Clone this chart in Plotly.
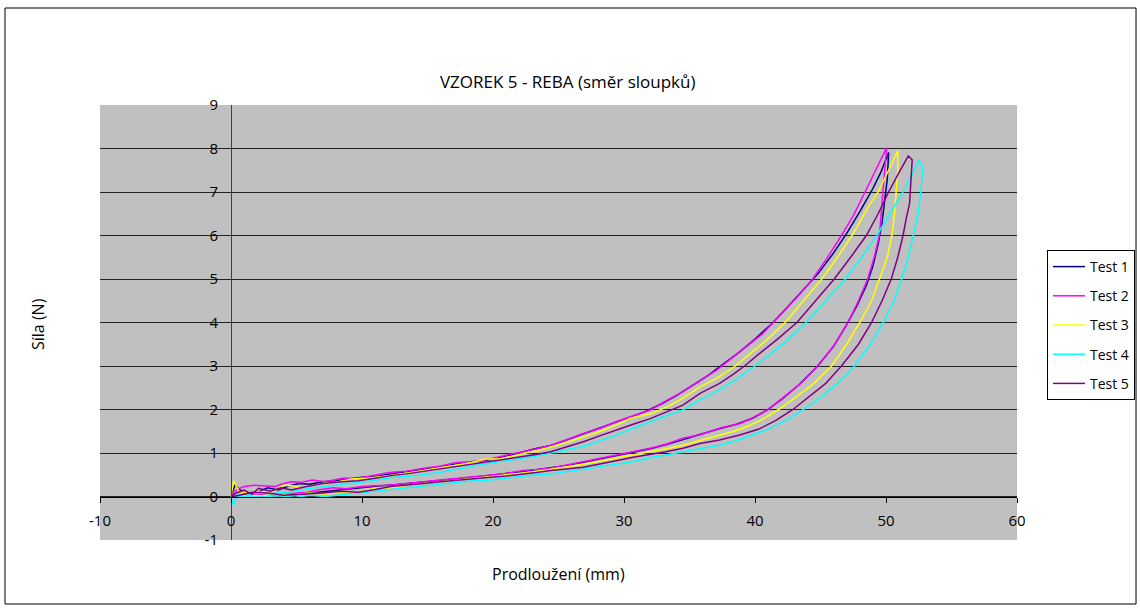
import plotly.graph_objects as go

# Test 1 (navy)
t1_load_x = [0, 0.3, 0.7, 1.2, 2.0, 2.8, 3.6, 4.4, 5.2, 6.0, 7.0, 8.0, 9.0, 10.0, 11.2, 12.4, 13.6, 14.8, 16.0, 17.2, 18.4, 19.6, 20.8, 22.0, 23.2, 24.4, 25.6, 26.8, 28.0, 29.2, 30.4, 31.6, 32.8, 34.0, 35.2, 36.4, 37.6, 38.8, 40.0, 41.2, 42.4, 43.6, 44.8, 46.0, 47.0, 48.0, 49.0, 49.6, 50.2]
t1_load_y = [0.0, 0.26, 0.15, 0.05, 0.1, 0.2, 0.15, 0.24, 0.3, 0.28, 0.34, 0.36, 0.4, 0.44, 0.47, 0.53, 0.58, 0.62, 0.69, 0.75, 0.8, 0.84, 0.92, 1.0, 1.1, 1.17, 1.3, 1.43, 1.55, 1.69, 1.82, 1.95, 2.12, 2.32, 2.55, 2.78, 3.05, 3.32, 3.62, 3.95, 4.33, 4.72, 5.12, 5.6, 6.05, 6.55, 7.08, 7.45, 7.91]
t1_unload_x = [50.2, 50.1, 49.9, 49.7, 49.4, 49.0, 48.5, 47.8, 47.0, 46.0, 44.7, 43.4, 42.1, 40.9, 39.8, 38.6, 37.2, 35.9, 34.6, 33.3, 32.0, 30.7, 29.4, 28.1, 26.8, 25.5, 24.2, 22.9, 21.6, 20.3, 19.0, 17.7, 16.4, 15.1, 13.8, 12.5, 11.2, 9.9, 8.6, 7.3, 6.0, 4.8, 3.6, 2.4, 1.2, 0.4]
t1_unload_y = [7.91, 7.3, 6.8, 6.3, 5.8, 5.3, 4.85, 4.4, 3.95, 3.45, 2.97, 2.58, 2.25, 1.98, 1.8, 1.66, 1.55, 1.43, 1.31, 1.2, 1.1, 1.02, 0.93, 0.86, 0.78, 0.71, 0.65, 0.6, 0.55, 0.5, 0.46, 0.42, 0.38, 0.35, 0.3, 0.27, 0.24, 0.2, 0.17, 0.12, 0.08, 0.04, 0.05, 0.02, 0.03, 0.0]

# Test 2 (magenta)
t2_load_x = [0, 0.3, 0.6, 1.0, 1.8, 2.6, 3.4, 4.0, 4.6, 5.4, 6.2, 7.2, 8.5, 9.7, 11.0, 12.1, 13.4, 14.7, 16.0, 17.2, 18.5, 19.8, 21.0, 22.3, 23.4, 24.4, 25.6, 26.9, 28.2, 29.4, 30.7, 32.0, 33.2, 34.5, 35.8, 37.1, 38.3, 39.5, 40.5, 41.4, 42.5, 43.5, 44.4, 45.5, 46.6, 47.5, 48.4, 49.2, 50.05]
t2_load_y = [0.0, 0.12, 0.18, 0.23, 0.26, 0.24, 0.23, 0.3, 0.34, 0.33, 0.38, 0.34, 0.42, 0.42, 0.49, 0.55, 0.58, 0.65, 0.7, 0.78, 0.8, 0.86, 0.95, 1.03, 1.1, 1.18, 1.3, 1.45, 1.57, 1.72, 1.85, 1.99, 2.2, 2.41, 2.66, 2.91, 3.2, 3.48, 3.72, 4.0, 4.35, 4.68, 5.0, 5.48, 6.0, 6.45, 7.0, 7.5, 8.02]
t2_unload_x = [50.05, 49.9, 49.75, 49.6, 49.5, 49.1, 48.6, 47.9, 47.1, 46.1, 44.8, 43.5, 42.2, 41.0, 39.9, 38.85, 37.3, 35.8, 34.5, 33.2, 32.0, 30.7, 29.4, 28.1, 26.9, 25.6, 24.4, 23.3, 22.3, 21.0, 19.8, 18.5, 17.2, 16.0, 14.7, 13.4, 12.1, 11.0, 10.0, 8.8, 7.8, 6.6, 5.8, 5.1, 4.2, 3.4, 2.6, 1.8, 1.0, 0.4]
t2_unload_y = [8.02, 7.5, 7.0, 6.5, 6.0, 5.5, 5.0, 4.5, 4.0, 3.5, 3.0, 2.6, 2.28, 2.0, 1.82, 1.68, 1.57, 1.42, 1.34, 1.2, 1.11, 1.03, 0.95, 0.87, 0.8, 0.72, 0.65, 0.62, 0.6, 0.53, 0.49, 0.45, 0.41, 0.38, 0.34, 0.3, 0.26, 0.25, 0.23, 0.18, 0.2, 0.15, 0.1, 0.08, 0.05, 0.07, 0.03, 0.05, 0.02, 0.0]

# Test 3 (yellow)
t3_load_x = [0, 0.2, 0.6, 1.2, 2.0, 2.8, 3.4, 4.0, 4.8, 5.3, 6.2, 7.0, 8.0, 9.2, 10.4, 11.4, 12.3, 13.5, 14.7, 16.0, 17.2, 18.4, 19.4, 20.5, 21.4, 22.3, 23.4, 24.4, 25.6, 26.9, 28.2, 29.4, 30.5, 32.0, 33.3, 34.5, 35.8, 37.1, 38.5, 39.7, 40.9, 42.3, 43.7, 45.1, 46.3, 47.4, 48.65, 49.4, 50.2, 50.9]
t3_load_y = [0.0, 0.36, 0.12, 0.08, 0.12, 0.1, 0.15, 0.26, 0.24, 0.2, 0.25, 0.3, 0.33, 0.4, 0.42, 0.45, 0.49, 0.54, 0.6, 0.66, 0.73, 0.78, 0.86, 0.86, 0.92, 0.99, 1.05, 1.13, 1.24, 1.37, 1.5, 1.64, 1.8, 1.9, 2.06, 2.26, 2.52, 2.72, 3.0, 3.3, 3.6, 4.0, 4.5, 5.0, 5.5, 6.0, 6.66, 7.0, 7.5, 7.95]
t3_unload_x = [50.9, 50.9, 50.8, 50.65, 50.45, 50.1, 49.5, 48.9, 48.0, 47.0, 45.85, 44.5, 43.1, 41.8, 40.6, 39.5, 38.4, 37.3, 35.8, 34.5, 33.2, 32.0, 30.7, 29.4, 28.1, 26.9, 25.6, 24.4, 23.3, 22.3, 21.0, 19.8, 18.5, 17.2, 16.0, 14.7, 13.4, 12.2, 11.0, 9.7, 8.4, 7.2, 6.0, 4.8, 3.6, 2.4, 1.2, 0.4]
t3_unload_y = [7.95, 7.5, 7.0, 6.5, 6.0, 5.5, 5.0, 4.5, 4.0, 3.5, 3.0, 2.6, 2.28, 2.0, 1.78, 1.62, 1.5, 1.41, 1.3, 1.18, 1.1, 1.03, 0.95, 0.88, 0.8, 0.74, 0.68, 0.62, 0.58, 0.54, 0.5, 0.47, 0.42, 0.38, 0.34, 0.3, 0.26, 0.2, 0.19, 0.11, 0.1, 0.06, 0.08, 0.04, 0.06, 0.02, 0.03, 0.0]

# Test 4 (cyan)
t4_load_x = [0, 0.2, 0.5, 1.0, 2.1, 3.0, 4.0, 4.6, 5.8, 7.2, 8.4, 9.7, 10.9, 12.1, 13.4, 14.7, 16.0, 17.2, 18.5, 19.8, 21.0, 22.3, 23.4, 24.4, 25.6, 26.9, 28.2, 29.4, 30.7, 32.0, 33.2, 34.5, 35.8, 37.3, 38.7, 40.0, 41.3, 42.5, 43.9, 45.4, 46.9, 47.9, 48.8, 49.3, 50.3, 51.3, 52.0, 52.5]
t4_load_y = [0.0, -0.2, 0.05, 0.0, 0.11, 0.06, 0.1, 0.11, 0.18, 0.23, 0.26, 0.32, 0.37, 0.43, 0.46, 0.5, 0.56, 0.63, 0.7, 0.77, 0.82, 0.88, 0.93, 1.0, 1.08, 1.15, 1.28, 1.41, 1.57, 1.72, 1.85, 1.99, 2.22, 2.45, 2.72, 3.0, 3.3, 3.6, 4.0, 4.5, 5.0, 5.4, 5.78, 6.0, 6.5, 7.0, 7.4, 7.74]
t4_unload_x = [52.5, 52.8, 52.7, 52.45, 52.1, 51.7, 51.2, 50.6, 49.8, 48.8, 47.6, 46.3, 45.0, 43.7, 42.4, 41.0, 39.5, 38.4, 37.3, 35.8, 34.5, 33.2, 32.0, 30.7, 29.4, 28.1, 26.9, 25.6, 24.4, 23.3, 22.3, 21.0, 19.8, 18.5, 17.2, 16.0, 14.7, 13.4, 12.1, 10.9, 9.7, 8.4, 7.2, 6.0, 4.8, 3.6, 2.4, 1.2, 0.4]
t4_unload_y = [7.74, 7.57, 7.12, 6.5, 6.0, 5.5, 5.0, 4.5, 4.0, 3.5, 3.0, 2.6, 2.28, 2.0, 1.75, 1.55, 1.38, 1.27, 1.18, 1.1, 1.03, 0.95, 0.89, 0.8, 0.74, 0.69, 0.64, 0.57, 0.52, 0.5, 0.47, 0.42, 0.38, 0.36, 0.32, 0.27, 0.24, 0.19, 0.15, 0.12, 0.08, 0.05, 0.0, 0.03, -0.02, 0.02, -0.01, 0.01, 0.0]

# Test 5 (purple)
t5_load_x = [0, 0.4, 1.0, 1.6, 2.1, 3.0, 3.8, 4.6, 5.6, 7.0, 8.5, 9.7, 11.0, 12.2, 13.4, 14.7, 16.0, 17.2, 18.5, 19.8, 21.0, 22.3, 23.4, 24.4, 25.6, 26.9, 28.2, 29.4, 30.7, 32.0, 33.2, 34.5, 35.8, 37.3, 38.3, 39.2, 40.4, 41.65, 43.2, 44.6, 46.05, 47.3, 48.5, 49.4, 50.2, 51.0, 51.7]
t5_load_y = [0.0, 0.08, 0.15, 0.05, 0.19, 0.12, 0.2, 0.15, 0.22, 0.3, 0.34, 0.36, 0.42, 0.48, 0.52, 0.58, 0.63, 0.69, 0.74, 0.8, 0.86, 0.93, 0.97, 1.03, 1.14, 1.26, 1.4, 1.53, 1.66, 1.79, 1.93, 2.1, 2.37, 2.6, 2.8, 3.0, 3.3, 3.6, 4.0, 4.5, 5.0, 5.5, 6.0, 6.5, 7.0, 7.45, 7.83]
t5_unload_x = [51.7, 52.0, 51.8, 51.55, 51.3, 50.9, 50.4, 49.7, 48.9, 47.9, 46.6, 45.4, 44.1, 42.9, 41.6, 40.3, 38.9, 37.3, 35.8, 34.5, 33.2, 32.0, 30.7, 29.4, 28.1, 26.9, 25.6, 24.4, 23.3, 22.3, 21.0, 19.8, 18.5, 17.2, 16.0, 14.7, 13.4, 12.2, 11.0, 9.7, 8.4, 7.0, 5.6, 4.0, 2.8, 1.6, 0.8, 0.2]
t5_unload_y = [7.83, 7.74, 6.74, 6.4, 6.0, 5.5, 5.0, 4.5, 4.0, 3.5, 3.0, 2.6, 2.28, 2.0, 1.75, 1.55, 1.42, 1.3, 1.22, 1.11, 1.03, 0.97, 0.9, 0.82, 0.74, 0.67, 0.63, 0.6, 0.55, 0.51, 0.47, 0.44, 0.41, 0.38, 0.34, 0.3, 0.27, 0.23, 0.16, 0.1, 0.12, 0.08, 0.06, 0.03, 0.08, 0.1, 0.04, 0.0]

names = ["Test 1", "Test 2", "Test 3", "Test 4", "Test 5"]
colors = ["#000080", "#FF00FF", "#FFFF00", "#00FFFF", "#800080"]

x_ticks = [-10, 0, 10, 20, 30, 40, 50, 60]
x_ticktext = ["-10", "0", "10", "20", "30", "40", "50", "60"]
y_ticks = [-1, 0, 1, 2, 3, 4, 5, 6, 7, 8, 9]
y_ticktext = ["-1", "0", "1", "2", "3", "4", "5", "6", "7", "8", "9"]

series = [
    (t1_load_x + t1_unload_x, t1_load_y + t1_unload_y),
    (t2_load_x + t2_unload_x, t2_load_y + t2_unload_y),
    (t3_load_x + t3_unload_x, t3_load_y + t3_unload_y),
    (t4_load_x + t4_unload_x, t4_load_y + t4_unload_y),
    (t5_load_x + t5_unload_x, t5_load_y + t5_unload_y),
]

FONT = "Open Sans"

fig = go.Figure()
for (xs, ys), name, col in zip(series, names, colors):
    fig.add_trace(go.Scatter(x=xs, y=ys, mode="lines", name=name, legendgroup=name,
                             line=dict(color=col, width=1.5)))

fig.update_layout(
    width=1140, height=608,
    margin=dict(l=100, r=123, t=105, b=68),
    paper_bgcolor="white",
    plot_bgcolor="#C0C0C0",
    font=dict(family=FONT, size=15, color="black"),
    title=dict(text="VZOREK 5 - REBA (směr sloupků)", x=0.498, xref="container",
               y=1 - 82 / 608, yref="container", xanchor="center", yanchor="middle",
               font=dict(family=FONT, size=17, color="black")),
    showlegend=True,
    # container refs so the legend does not shrink the plot area
    legend=dict(xref="container", yref="container", x=1047 / 1140, y=1 - 250 / 608,
                xanchor="left", yanchor="top",
                bgcolor="white", bordercolor="black", borderwidth=1,
                font=dict(family=FONT, size=14), tracegroupgap=8,
                itemwidth=32),
    xaxis=dict(range=[-10, 60], tickvals=x_ticks, ticktext=x_ticktext,
               showgrid=False, zeroline=False,
               showline=True, linecolor="black", linewidth=1,
               anchor="free", position=0.1,
               ticks="outside", ticklen=5, tickcolor="black",
               ticklabelstandoff=5, tickfont=dict(size=15)),
    yaxis=dict(range=[-1, 9], tickvals=y_ticks, ticktext=y_ticktext,
               showgrid=True, gridcolor="#222222", gridwidth=1,
               zeroline=False, showline=True, linecolor="#404040", linewidth=1,
               anchor="free", position=10 / 70,
               ticks="", ticklabelstandoff=10, tickfont=dict(size=15)),
    annotations=[
        dict(text="Prodloužení (mm)", x=0.5, y=(540 - 574) / 435, xref="paper", yref="paper",
             showarrow=False, font=dict(family=FONT, size=16), xanchor="center", yanchor="middle"),
        dict(text="Síla (N)", x=(38 - 100) / 917, y=(540 - 324) / 435, xref="paper", yref="paper",
             showarrow=False, textangle=-90, font=dict(family=FONT, size=16),
             xanchor="center", yanchor="middle"),
    ],
    shapes=[
        dict(type="rect", xref="paper", yref="paper",
             x0=(5 - 100) / 917, x1=(1136 - 100) / 917,
             y0=(540 - 604) / 435, y1=(540 - 8) / 435,
             line=dict(color="black", width=1), fillcolor="rgba(0,0,0,0)", layer="below"),
    ],
)

# page margin off so the figure sits at the window's top-left corner
fig.write_html("out.html", config={"displayModeBar": False},
               post_script="document.body.style.margin='0';")
